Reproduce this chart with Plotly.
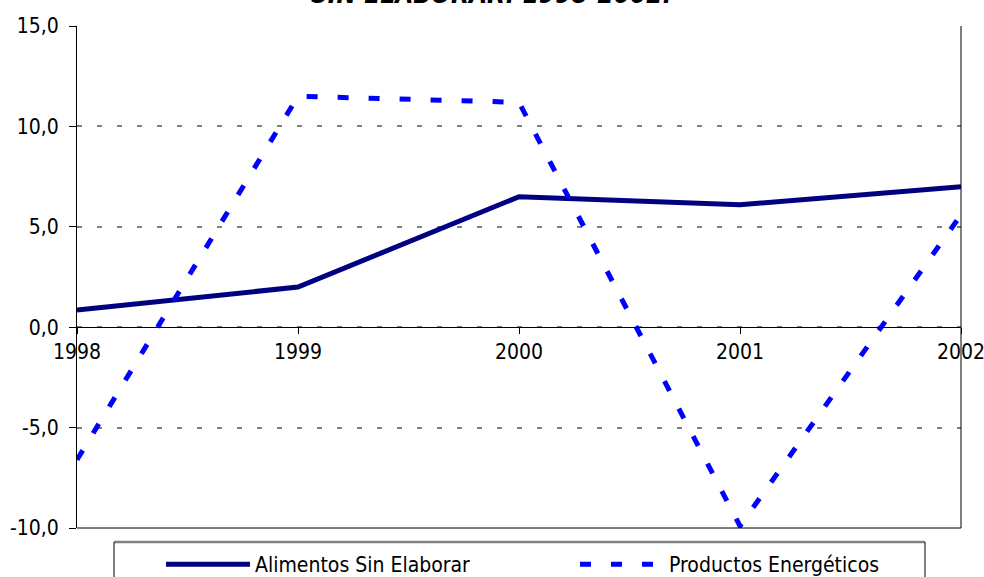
import plotly.graph_objects as go

years = [1998, 1999, 2000, 2001, 2002]
alimentos = [0.85, 2.0, 6.5, 6.1, 7.0]
energeticos = [-6.6, 11.5, 11.2, -9.9, 5.6]
y_ticks = [-10, -5, 0, 5, 10, 15]
y_ticktext = [f"{v:.1f}".replace(".", ",") for v in y_ticks]
title_text = "SIN ELABORAR. 1998-2002."

FONT = "'DejaVu Sans Condensed', Tahoma, 'Liberation Sans', sans-serif"

fig = go.Figure()
fig.add_trace(go.Scatter(
    x=years, y=alimentos, mode="lines", name="Alimentos Sin Elaborar",
    line=dict(color="#000080", width=5),
))
fig.add_trace(go.Scatter(
    x=years, y=energeticos, mode="lines", name="Productos Energéticos",
    line=dict(color="#0000FF", width=5, dash="11px,20px"),
))

fig.update_layout(
    width=984, height=577,
    margin=dict(l=77, r=23, t=26, b=49, autoexpand=False),
    paper_bgcolor="white", plot_bgcolor="white",
    font=dict(family=FONT, size=21, color="black"),
    showlegend=True,
    legend=dict(
        orientation="h", x=(161 - 77) / 884, xanchor="left",
        y=(528 - 544) / 502, yanchor="top",
        itemwidth=84, entrywidth=315, entrywidthmode="pixels",
        bgcolor="rgba(0,0,0,0)", borderwidth=0,
        font=dict(family=FONT, size=21, color="black"),
        tracegroupgap=0, itemclick=False,
    ),
    xaxis=dict(
        range=[1998, 2002], tickvals=years, ticktext=[str(y) for y in years],
        anchor="free", position=0.4, showline=True, linecolor="black", linewidth=1,
        ticks="outside", ticklen=6, tickcolor="black", showgrid=False, zeroline=False,
        ticklabeloverflow="allow",
        tickfont=dict(family=FONT, size=21),
    ),
    yaxis=dict(
        range=[-10, 15], tickvals=y_ticks, ticktext=y_ticktext,
        showline=True, linecolor="black", linewidth=1,
        ticks="outside", ticklen=7, tickcolor="black",
        showgrid=True, gridcolor="#808080", gridwidth=1.5, griddash="5px,15px",
        zeroline=False, ticklabelstandoff=6,
        tickfont=dict(family=FONT, size=21),
    ),
)

# plot frame: bottom and right edges
fig.add_shape(type="line", xref="paper", yref="paper", x0=0, x1=1, y0=0, y1=0,
              line=dict(color="black", width=1), layer="above")
fig.add_shape(type="line", xref="paper", yref="paper", x0=1, x1=1, y0=0, y1=1,
              line=dict(color="black", width=1), layer="above")

# legend box
lx0 = (114 - 77) / 884
lx1 = (925 - 77) / 884
ly_top = (528 - 542) / 502
ly_bot = (528 - 600) / 502
fig.add_shape(type="line", xref="paper", yref="paper", x0=lx0, x1=lx1, y0=ly_top, y1=ly_top,
              line=dict(color="#808080", width=2.5))
fig.add_shape(type="line", xref="paper", yref="paper", x0=lx0, x1=lx0, y0=ly_top, y1=ly_bot,
              line=dict(color="black", width=1))
fig.add_shape(type="line", xref="paper", yref="paper", x0=lx1, x1=lx1, y0=ly_top, y1=ly_bot,
              line=dict(color="black", width=1))

# title (clipped at the top edge as in the source)
fig.add_annotation(
    text="<b><i>" + title_text + "</i></b>", xref="paper", yref="paper",
    x=(491 - 77) / 884, y=1, yanchor="bottom", yshift=15, showarrow=False,
    font=dict(family=FONT, size=26, color="black"),
)

# remove the default 8px page margin so the figure sits at the window origin
fig.write_html(
    "out.html",
    config={"displayModeBar": False},
    post_script="document.body.style.margin='0';document.body.style.overflow='hidden';",
)
